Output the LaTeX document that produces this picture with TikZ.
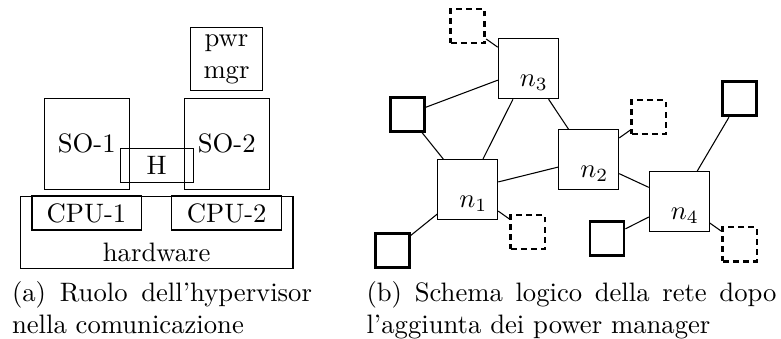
\documentclass[tikz,border=0pt]{standalone}
\begin{document}
\begin{tikzpicture}[x=0.375pt,y=-0.375pt,
  box/.style={draw,line width=0.4pt,rectangle,inner sep=0pt},
  bignode/.style={draw,line width=0.4pt,rectangle,inner sep=0pt,minimum width=22.5pt,minimum height=22.5pt},
  pmsolid/.style={draw,line width=1.05pt,rectangle,inner sep=0pt,minimum width=12.8pt,minimum height=12.8pt},
  pmdash/.style={draw,line width=1pt,dash pattern=on 2.2pt off 1.6pt,rectangle,inner sep=0pt,minimum width=12.8pt,minimum height=12.8pt},
  nlab/.style={anchor=south east,inner sep=0pt,xshift=-3.9pt,yshift=3pt},
  link/.style={line width=0.4pt},
  captext/.style={anchor=north west,inner sep=0pt,align=justify}]
\useasboundingbox (0,0) rectangle (781,338);
% ---- panel (a)
\node[box,minimum width=26.85pt,minimum height=23.7pt,align=center] (pwr) at (226.5,59.3) {pwr\\mgr};
\node[box,minimum width=31.8pt,minimum height=34pt] (so1) at (86.7,143.7) {SO-1};
\node[box,minimum width=31.8pt,minimum height=34pt] (so2) at (226.8,143.7) {SO-2};
\node[box,minimum width=27.3pt,minimum height=12.75pt] (hyp) at (156.7,165.3) {H};
\node[box,minimum width=102.2pt,minimum height=27.1pt] (hw) at (156.7,232.2) {};
\node[anchor=base,inner sep=0pt] (hwlab) at (156.7,261.7) {hardware};
\node[box,minimum width=40.9pt,minimum height=12.75pt] (cpu1) at (86.5,213) {CPU-1};
\node[box,minimum width=41.2pt,minimum height=12.75pt] (cpu2) at (226.7,213) {CPU-2};
\node[captext,text width=112.5pt] (capa) at (11.5,281) {(a) Ruolo dell'hypervisor\linebreak nella comunicazione};
% ---- panel (b)
\node[bignode] (n3) at (528.3,68.7) {};
\node[bignode] (n1) at (467.7,189.5) {};
\node[bignode] (n2) at (588.7,159.5) {};
\node[bignode] (n4) at (679.3,201.5) {};
\node[nlab] (l3) at (n3.south east) {$n_3$};
\node[nlab] (l1) at (n1.south east) {$n_1$};
\node[nlab] (l2) at (n2.south east) {$n_2$};
\node[nlab] (l4) at (n4.south east) {$n_4$};
\node[pmsolid] (pa) at (407.3,114.2) {};
\node[pmsolid] (pb) at (392.3,250.3) {};
\node[pmsolid] (pc) at (607,238.2) {};
\node[pmsolid] (pd) at (739.8,98.8) {};
\node[pmdash] (pe) at (467.7,26) {};
\node[pmdash] (pf) at (648.8,117) {};
\node[pmdash] (pg) at (527.8,232) {};
\node[pmdash] (ph) at (739.8,244.2) {};
\draw[link] (n3) -- (pa);
\draw[link] (pa) -- (n1);
\draw[link] (n3) -- (n1);
\draw[link] (n3) -- (n2);
\draw[link] (n1) -- (n2);
\draw[link] (n2) -- (n4);
\draw[link] (n4) -- (pd);
\draw[link] (n1) -- (pb);
\draw[link] (n4) -- (pc);
\draw[link] (n3) -- (pe);
\draw[link] (n2) -- (pf);
\draw[link] (n1) -- (pg);
\draw[link] (n4) -- (ph);
\node[captext,text width=153.75pt] (capb) at (366,281) {(b) Schema logico della rete dopo\linebreak l'aggiunta dei power manager};
\end{tikzpicture}
\end{document}
